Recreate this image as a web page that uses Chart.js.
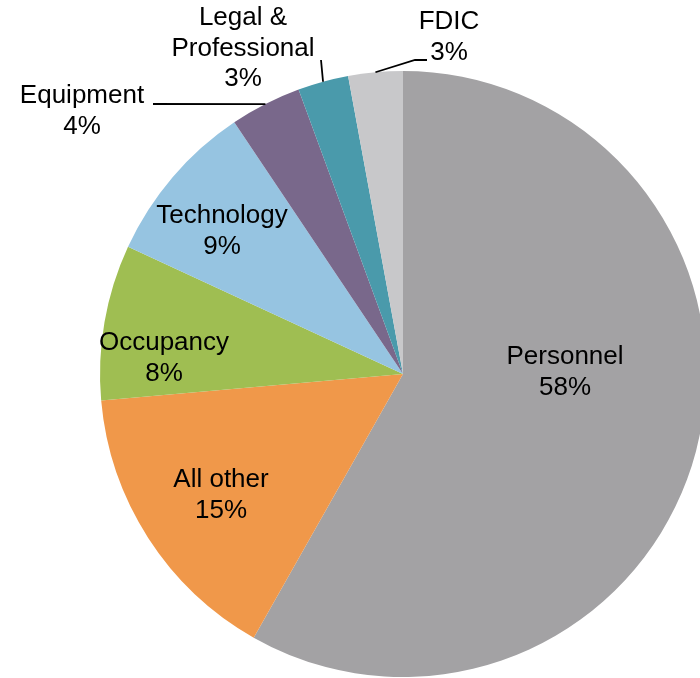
<!DOCTYPE html>
<html>
<head>
<meta charset="utf-8">
<title>Noninterest expense mix</title>
<script src="https://cdn.jsdelivr.net/npm/chart.js@4/dist/chart.umd.min.js"></script>
<style>
  html, body { margin: 0; padding: 0; width: 700px; height: 678px; overflow: hidden; background: #ffffff; }
  #wrap { position: absolute; left: 0; top: 0; width: 760px; height: 760px; }
</style>
</head>
<body>
<div id="wrap"><canvas id="pie"></canvas></div>
<script>
// Expense categories, clockwise from 12 o'clock
const categories = ['Personnel', 'All other', 'Occupancy', 'Technology', 'Equipment', 'Legal & Professional', 'FDIC'];
// Share of total expense, percent (labels show these rounded to whole percent)
const shares = [58.2, 15.4, 8.3, 8.7, 3.8, 2.7, 2.9];
// Text lines for each slice label
const labelText = [
  ['Personnel'], ['All other'], ['Occupancy'], ['Technology'],
  ['Equipment'], ['Legal &', 'Professional'], ['FDIC']
];

const sliceColors = ['#A3A2A4', '#F0984A', '#9FBE52', '#96C4E1', '#79688B', '#4A9AAB', '#C8C8CA'];

// Where each label sits (centre x, first baseline) and the label end of its leader line
const labelLayout = [
  { x: 565, y: 364 },
  { x: 221, y: 487 },
  { x: 164, y: 350 },
  { x: 222, y: 223 },
  { x: 82,  y: 103, leader: [[153, 104]] },
  { x: 243, y: 25,  leader: [[321, 60]] },
  { x: 449, y: 29,  leader: [[427, 60], [415, 60]] }
];
const LINE_STEP = 30.5;

const sliceLabels = {
  id: 'sliceLabels',
  afterDatasetsDraw(chart) {
    const ctx = chart.ctx;
    const arcs = chart.getDatasetMeta(0).data;
    const values = chart.data.datasets[0].data;
    const total = values.reduce((a, b) => a + b, 0);
    ctx.save();
    arcs.forEach((arc, i) => {
      const lay = labelLayout[i];
      // leader line to the middle of the slice's outer edge
      if (lay.leader) {
        const p = arc.getProps(['x', 'y', 'startAngle', 'endAngle', 'outerRadius'], true);
        const mid = (p.startAngle + p.endAngle) / 2;
        const ex = p.x + Math.cos(mid) * p.outerRadius;
        const ey = p.y + Math.sin(mid) * p.outerRadius;
        ctx.beginPath();
        ctx.strokeStyle = '#000000';
        ctx.lineWidth = 1.8;
        ctx.moveTo(lay.leader[0][0], lay.leader[0][1]);
        for (let k = 1; k < lay.leader.length; k++) ctx.lineTo(lay.leader[k][0], lay.leader[k][1]);
        ctx.lineTo(ex, ey);
        ctx.stroke();
      }
      const pct = Math.round(values[i] / total * 100) + '%';
      const lines = labelText[i].concat([pct]);
      ctx.fillStyle = '#000000';
      ctx.font = '26px "Liberation Sans", Arial, sans-serif';
      ctx.textAlign = 'center';
      ctx.textBaseline = 'alphabetic';
      lines.forEach((t, k) => ctx.fillText(t, lay.x, lay.y + k * LINE_STEP));
    });
    ctx.restore();
  }
};

new Chart(document.getElementById('pie'), {
  type: 'pie',
  data: {
    labels: categories,
    datasets: [{
      data: shares,
      backgroundColor: sliceColors,
      borderWidth: 0
    }]
  },
  options: {
    responsive: true,
    maintainAspectRatio: false,
    animation: false,
    events: [],
    layout: { padding: { left: 100, top: 71, right: 54, bottom: 83 } },
    plugins: {
      legend: { display: false },
      tooltip: { enabled: false }
    }
  },
  plugins: [sliceLabels]
});
</script>
</body>
</html>
